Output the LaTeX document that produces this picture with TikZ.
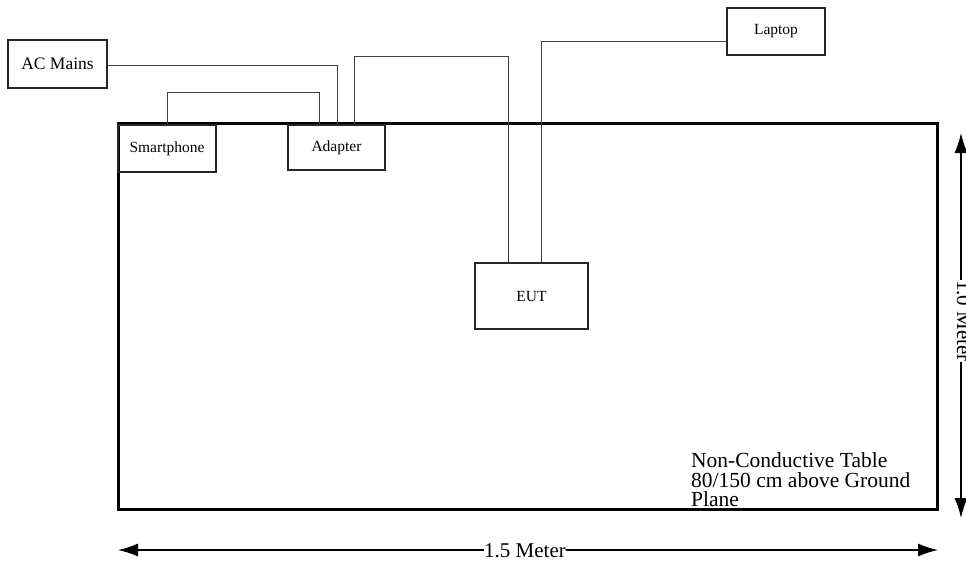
\documentclass[tikz,border=0pt]{standalone}
\usepackage{fontspec}
\setmainfont{Liberation Serif}
\usetikzlibrary{arrows.meta}
\tikzset{
  devbox/.style={draw=black!85, line width=1.3pt, inner sep=0pt, font=\fontsize{15.5}{17}\selectfont},
  wire/.style={draw=black!75, line width=1pt},
  tableedge/.style={draw=black, line width=3pt},
  dimarrow/.style={draw=black, line width=1.3pt, -{Latex[length=20pt,width=13pt]}},
  dimlabel/.style={font=\fontsize{21}{20}\selectfont, inner sep=0pt}
}
\begin{document}
\begin{tikzpicture}[x=1pt,y=-1pt]
\useasboundingbox (0,0) rectangle (966,567);
% table
\draw[tableedge] (118,124) rectangle (937,509);
% devices
\node[devbox, minimum width=99pt, minimum height=48pt, font=\fontsize{17.5}{19}\selectfont] (ac) at (57.5,64) {AC Mains};
\node[devbox, minimum width=98pt, minimum height=47pt] (sp) at (167,148.5) {Smartphone};
\node[devbox, minimum width=97pt, minimum height=45pt] (ad) at (336.5,147.5) {Adapter};
\node[devbox, minimum width=98pt, minimum height=47pt] (lap) at (776,31.5) {Laptop};
\node[devbox, minimum width=113pt, minimum height=66pt] (eut) at (531.5,296) {EUT};
% wires
\draw[wire] ([yshift=-2pt]ac.east) -| ([xshift=0.5pt]ad.north);
\draw[wire] (sp.north) -- ++(0,-32) -| ([xshift=-17.5pt]ad.north);
\draw[wire] ([xshift=17.5pt]ad.north) -- ++(0,-68) -| ([xshift=-23.5pt]eut.north);
\draw[wire] ([yshift=-10.5pt]lap.west) -| ([xshift=9.5pt]eut.north);
% table note
\node[anchor=north west, inner sep=0pt, align=left, font=\fontsize{21.5}{19.5}\selectfont] (note) at (691,452.5)
  {Non-Conductive Table\\80/150 cm above Ground\\Plane};
% horizontal dimension
\node[dimlabel, anchor=base] (hlab) at (525,557) {1.5 Meter};
\coordinate (hl) at (118,550);
\coordinate (hr) at (938,550);
\draw[dimarrow] (hlab.west |- hl) -- (hl);
\draw[dimarrow] (hlab.east |- hr) -- (hr);
% vertical dimension
\node[dimlabel, rotate=-90, anchor=base west] (vlab) at (957,280) {1.0 Meter};
\coordinate (vt) at (961,133);
\coordinate (vb) at (961,518);
\coordinate (vlt) at (961,280);
\coordinate (vlb) at (961,362);
\draw[dimarrow] (vlt) -- (vt);
\draw[dimarrow] (vlb) -- (vb);
\end{tikzpicture}
\end{document}
